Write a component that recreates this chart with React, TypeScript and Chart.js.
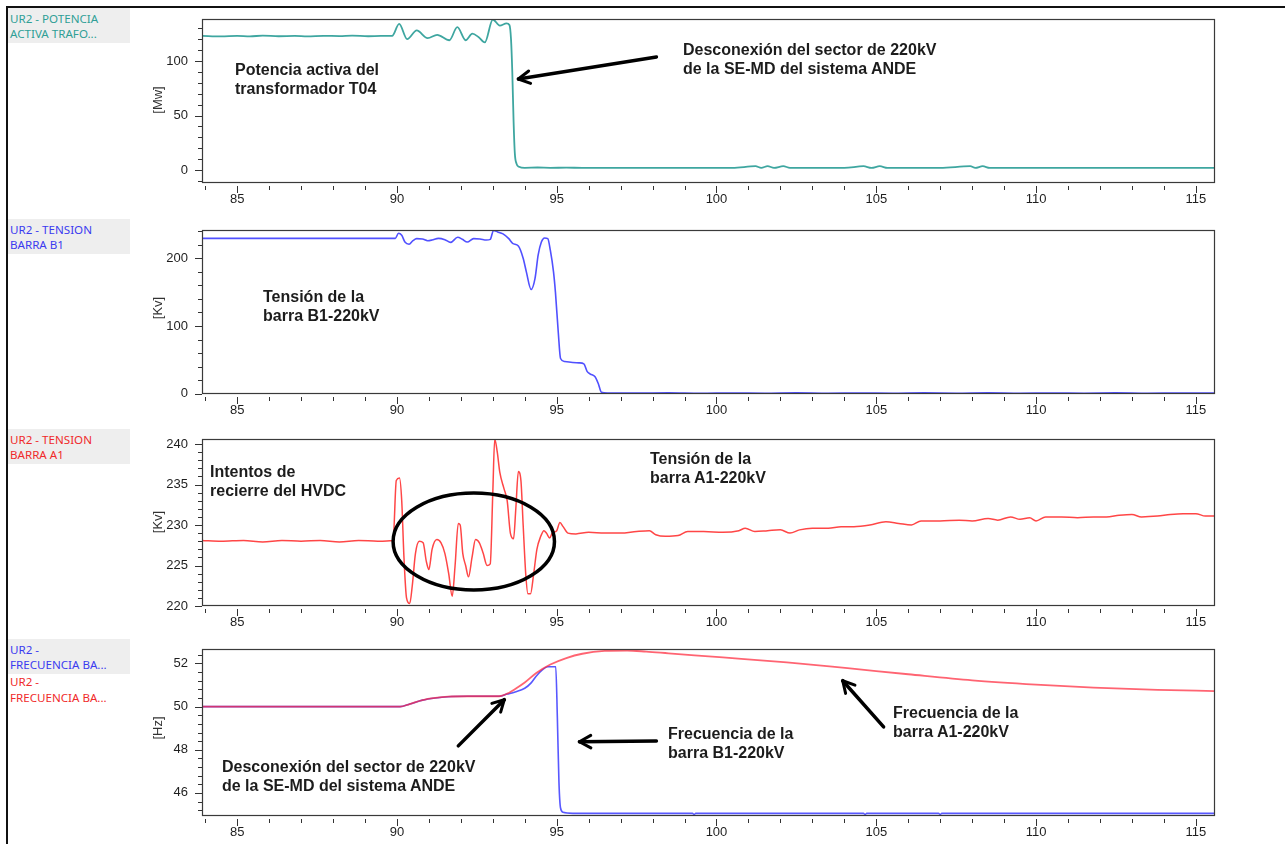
import React, { useEffect, useRef } from "react";
import { Chart, registerables } from "chart.js";

Chart.register(...registerables);

type Pt = [number, number];

// ---------- shared time axis [s] ----------
const TIME_MIN = 83.9;
const TIME_MAX = 115.6;
const TIME_TICKS = [85, 90, 95, 100, 105, 110, 115];

// ---------- panel 1: active power of transformer T04 [MW] ----------
const POWER_T04: Pt[] = [
  [83.9, 123], [84.5, 122.5], [85.0, 123], [85.4, 122.6], [85.8, 123.2], [86.3, 122.7],
  [86.8, 123], [87.2, 122.6], [87.7, 123.1], [88.2, 122.8], [88.6, 123.2], [89.1, 122.7],
  [89.5, 123], [89.85, 123], [90.07, 134], [90.32, 120], [90.62, 128], [90.96, 121],
  [91.26, 124], [91.64, 119], [91.89, 131], [92.15, 119], [92.36, 125], [92.55, 122],
  [92.75, 117], [93.0, 138], [93.22, 132.5], [93.43, 134.5], [93.52, 133], [93.57, 120],
  [93.61, 90], [93.65, 45], [93.69, 15], [93.74, 6], [93.82, 3], [94.0, 2], [94.4, 2.3],
  [94.8, 2], [95.3, 2.2], [95.8, 2], [96.5, 2], [97.5, 2], [98.5, 2], [99.5, 2], [100.5, 2],
  [101.22, 3.5], [101.4, 2], [101.6, 3.5], [101.8, 2], [102.09, 3.5], [102.3, 2], [103.0, 2],
  [104.0, 2], [104.6, 3.5], [104.85, 2], [105.11, 3.5], [105.35, 2], [106.0, 2], [107.0, 2],
  [107.94, 3.5], [108.1, 2], [108.33, 3.5], [108.55, 2], [109.5, 2], [110.5, 2], [111.5, 2],
  [112.5, 2], [113.5, 2], [114.5, 2], [115.6, 2],
];
const POWER_TICKS = [0, 50, 100];

// ---------- panel 2: voltage of bus B1 [kV] ----------
const VOLT_B1: Pt[] = [
  [83.9, 229.5], [89.95, 229.5], [90.05, 237], [90.15, 234], [90.25, 224], [90.38, 220.8],
  [90.5, 226], [90.62, 229], [90.8, 228.5], [90.96, 226], [91.1, 227], [91.3, 229.5],
  [91.5, 227.5], [91.68, 223.5], [91.9, 231], [92.05, 228], [92.2, 224], [92.4, 229],
  [92.6, 228.5], [92.8, 227], [92.92, 228], [93.02, 241], [93.15, 239], [93.32, 236],
  [93.5, 229], [93.62, 222], [93.8, 218], [93.95, 200], [94.05, 180], [94.2, 154],
  [94.32, 170], [94.42, 205], [94.52, 224], [94.62, 230], [94.72, 229], [94.8, 212],
  [94.9, 180], [94.96, 150], [95.05, 90], [95.12, 52], [95.25, 47.5], [95.5, 46],
  [95.7, 45.5], [95.85, 44], [95.95, 33], [96.05, 29], [96.2, 25], [96.3, 15], [96.4, 2],
  [96.6, 1], [97.5, 0.8], [98.5, 1.2], [99.5, 0.5], [100.5, 1], [101.5, 0.6], [102.5, 1.2],
  [103.5, 0.7], [104.5, 1], [105.5, 0.6], [106.5, 1.1], [107.5, 0.7], [108.5, 1.2],
  [109.5, 0.6], [110.5, 1], [111.5, 0.7], [112.5, 1.1], [113.5, 0.6], [114.5, 1], [115.6, 0.8],
];
const VOLT_B1_TICKS = [0, 100, 200];

// ---------- panel 3: voltage of bus A1 [kV] ----------
const VOLT_A1: Pt[] = [
  [83.9, 228.1], [84.5, 228.0], [85.2, 228.1], [85.8, 227.9], [86.4, 228.1], [87.0, 228.0],
  [87.6, 228.1], [88.2, 227.9], [88.8, 228.1], [89.4, 228.0], [89.88, 228.1], [89.98, 235.5],
  [90.08, 235.8], [90.15, 233], [90.22, 226], [90.3, 221], [90.4, 220.3], [90.48, 222.5],
  [90.58, 226.5], [90.7, 228], [90.82, 227.8], [90.92, 225.5], [91.0, 224.5], [91.1, 227],
  [91.25, 228.2], [91.38, 227.8], [91.5, 226.5], [91.62, 224], [91.73, 221.2], [91.82, 225],
  [91.92, 230.2], [91.98, 230], [92.06, 226.5], [92.15, 225], [92.24, 223.6], [92.35, 226],
  [92.46, 228.2], [92.58, 227.8], [92.7, 226.5], [92.82, 225], [92.92, 225.2], [93.0, 234],
  [93.06, 240.6], [93.14, 239], [93.22, 236.5], [93.35, 234.5], [93.45, 233], [93.55, 229],
  [93.65, 228.3], [93.72, 232], [93.8, 236.6], [93.88, 235.5], [93.95, 230], [94.03, 224],
  [94.1, 221.5], [94.18, 221.5], [94.28, 224], [94.38, 227], [94.5, 228.6], [94.6, 229.3],
  [94.68, 229], [94.78, 228.4], [94.86, 229], [95.0, 229.3], [95.1, 230.3], [95.2, 229.8],
  [95.35, 229], [95.6, 228.9], [96.0, 229.1], [96.5, 229], [97.0, 229], [97.5, 229.2],
  [97.9, 229.3], [98.1, 228.8], [98.4, 228.6], [98.8, 228.7], [99.1, 229.2], [99.6, 229.2],
  [100.2, 229.1], [100.7, 229.3], [100.9, 229.6], [101.2, 229.2], [101.6, 229.3], [102.0, 229.4],
  [102.3, 229.0], [102.6, 229.4], [103.0, 229.6], [103.5, 229.6], [103.9, 229.8], [104.3, 229.8],
  [104.8, 230.0], [105.3, 230.4], [105.7, 230.2], [106.1, 230.0], [106.4, 230.5], [107.0, 230.5],
  [107.6, 230.6], [108.0, 230.5], [108.5, 230.8], [108.8, 230.6], [109.2, 231.0], [109.5, 230.7],
  [109.8, 230.9], [110.0, 230.5], [110.3, 231.0], [110.8, 231.0], [111.3, 230.9], [111.8, 231.0],
  [112.2, 231.0], [112.6, 231.2], [113.0, 231.3], [113.3, 231.0], [113.8, 231.1], [114.2, 231.3],
  [114.6, 231.4], [115.0, 231.4], [115.3, 231.1], [115.6, 231.1],
];
const VOLT_A1_TICKS = [220, 225, 230, 235, 240];

// ---------- panel 4: frequency of buses A1 and B1 [Hz] ----------
const FREQ_A1: Pt[] = [
  [83.9, 50.0], [90.1, 50.0], [90.4, 50.12], [90.8, 50.3], [91.2, 50.4], [91.6, 50.46],
  [92.2, 50.48], [93.2, 50.48], [93.45, 50.6], [93.7, 50.82], [94.0, 51.12], [94.35, 51.55],
  [94.8, 51.95], [95.3, 52.25], [95.8, 52.45], [96.5, 52.58], [97.2, 52.6], [97.8, 52.55],
  [98.5, 52.47], [100.2, 52.28], [102.2, 52.05], [104.1, 51.78], [106.0, 51.5], [108.0, 51.22],
  [110.0, 51.02], [111.8, 50.88], [113.8, 50.78], [115.6, 50.72],
];
const FREQ_B1: Pt[] = [
  [83.9, 50.0], [90.1, 50.0], [90.4, 50.12], [90.8, 50.3], [91.2, 50.4], [91.6, 50.46],
  [92.2, 50.48], [93.2, 50.48], [93.45, 50.58], [93.7, 50.68], [94.0, 50.85], [94.2, 51.1],
  [94.35, 51.4], [94.55, 51.7], [94.72, 51.85], [94.97, 51.85], [95.02, 49.5], [95.07, 46.5],
  [95.12, 45.3], [95.2, 45.1], [95.5, 45.05], [99.25, 45.05], [99.3, 45.0], [99.35, 45.05],
  [104.6, 45.05], [104.65, 45.0], [104.7, 45.05], [106.95, 45.05], [107.0, 45.0],
  [107.05, 45.05], [115.6, 45.05],
];
const FREQ_TICKS = [46, 48, 50, 52];

// ---------- layout / styling ----------
const TICK_FONT = '"Liberation Sans", Arial, sans-serif';
const NOTE_FONT = '"Liberation Sans", Arial, sans-serif';
const LABEL_FONT = '"Noto Sans", "Open Sans", sans-serif';

const PAD_TOP = 12;
const X_AXIS_H = 30;
const Y_AXIS_W = 202;
const PAD_RIGHT = 70;

interface Series { data: Pt[]; color: string; width: number }
interface Arrow { from: Pt; to: Pt }
interface Ell { x0: number; x1: number; y0: number; y1: number }
interface PanelCfg {
  top: number; bottom: number;
  yMin: number; yMax: number; yTicks: number[]; yMinor: number;
  series: Series[];
  arrows: Arrow[];
  ellipses: Ell[];
}

const PANELS: PanelCfg[] = [
  {
    top: 19, bottom: 183, yMin: -11.9, yMax: 138.5, yTicks: POWER_TICKS, yMinor: 10,
    series: [{ data: POWER_T04, color: "rgb(62,166,160)", width: 1.8 }],
    arrows: [{ from: [98.12, 103.7], to: [93.8, 83.5] }],
    ellipses: [],
  },
  {
    top: 230, bottom: 394, yMin: -0.5, yMax: 241.8, yTicks: VOLT_B1_TICKS, yMinor: 20,
    series: [{ data: VOLT_B1, color: "rgb(80,80,255)", width: 1.6 }],
    arrows: [],
    ellipses: [],
  },
  {
    top: 439, bottom: 606, yMin: 220, yMax: 240.62, yTicks: VOLT_A1_TICKS, yMinor: 1,
    series: [{ data: VOLT_A1, color: "rgb(255,70,70)", width: 1.5 }],
    arrows: [],
    ellipses: [{ x0: 89.88, x1: 94.93, y0: 221.98, y1: 233.94 }],
  },
  {
    top: 649, bottom: 816, yMin: 44.93, yMax: 52.67, yTicks: FREQ_TICKS, yMinor: 0.4,
    series: [
      { data: FREQ_A1, color: "rgba(255,40,60,0.72)", width: 1.8 },
      { data: FREQ_B1, color: "rgba(70,70,255,0.9)", width: 1.6 },
    ],
    arrows: [
      { from: [91.92, 48.18], to: [93.36, 50.32] },
      { from: [98.12, 48.41], to: [95.71, 48.37] },
      { from: [105.23, 49.06], to: [103.95, 51.2] },
    ],
    ellipses: [],
  },
];

const SIDE_LABELS = [
  { top: 8, lines: ["UR2 - POTENCIA", "ACTIVA TRAFO..."], color: "#2f9f96", extra: null as null | { lines: string[]; color: string } },
  { top: 219, lines: ["UR2 - TENSION", "BARRA B1"], color: "#3b3bf0", extra: null },
  { top: 429, lines: ["UR2 - TENSION", "BARRA A1"], color: "#f02a2a", extra: null },
  { top: 639, lines: ["UR2 -", "FRECUENCIA BA..."], color: "#3b3bf0", extra: { lines: ["UR2 -", "FRECUENCIA BA..."], color: "#f02a2a" } },
];

const UNIT_LABELS = [
  { text: "[Mw]", cy: 100 },
  { text: "[Kv]", cy: 308 },
  { text: "[Kv]", cy: 522 },
  { text: "[Hz]", cy: 728 },
];

const NOTES = [
  { left: 235, top: 60, lines: ["Potencia activa del", "transformador T04"] },
  { left: 683, top: 39.5, lines: ["Desconexión del sector de 220kV", "de la SE-MD del sistema ANDE"] },
  { left: 263, top: 287, lines: ["Tensión de la", "barra B1-220kV"] },
  { left: 210, top: 461.5, lines: ["Intentos de", "recierre del HVDC"] },
  { left: 650, top: 449, lines: ["Tensión de la", "barra A1-220kV"] },
  { left: 222, top: 756.5, lines: ["Desconexión del sector de 220kV", "de la SE-MD del sistema ANDE"] },
  { left: 668, top: 724, lines: ["Frecuencia de la", "barra B1-220kV"] },
  { left: 893, top: 703, lines: ["Frecuencia de la", "barra A1-220kV"] },
];

function near(a: number, list: number[]) {
  return list.some((m) => Math.abs(m - a) < 1e-6);
}

function Panel({ cfg }: { cfg: PanelCfg }) {
  const ref = useRef<HTMLCanvasElement>(null);
  const h = cfg.bottom - cfg.top + PAD_TOP + X_AXIS_H;

  useEffect(() => {
    const framePlugin = {
      id: "frameTicks",
      afterDatasetsDraw(chart: any) {
        const { ctx } = chart;
        const xs = chart.scales.x;
        const ys = chart.scales.y;
        ctx.save();
        ctx.strokeStyle = "#000";
        ctx.lineWidth = 3.5;
        for (const e of cfg.ellipses) {
          const px0 = xs.getPixelForValue(e.x0), px1 = xs.getPixelForValue(e.x1);
          const py0 = ys.getPixelForValue(e.y0), py1 = ys.getPixelForValue(e.y1);
          ctx.beginPath();
          ctx.ellipse((px0 + px1) / 2, (py0 + py1) / 2, Math.abs(px1 - px0) / 2, Math.abs(py1 - py0) / 2, 0, 0, Math.PI * 2);
          ctx.stroke();
        }
        ctx.lineCap = "round";
        ctx.lineJoin = "round";
        for (const ar of cfg.arrows) {
          const x1 = xs.getPixelForValue(ar.from[0]), y1 = ys.getPixelForValue(ar.from[1]);
          const x2 = xs.getPixelForValue(ar.to[0]), y2 = ys.getPixelForValue(ar.to[1]);
          const ang = Math.atan2(y2 - y1, x2 - x1);
          ctx.lineWidth = 3.5;
          ctx.beginPath();
          ctx.moveTo(x1, y1);
          ctx.lineTo(x2, y2);
          ctx.stroke();
          ctx.lineWidth = 3;
          for (const s of [-1, 1]) {
            ctx.beginPath();
            ctx.moveTo(x2, y2);
            ctx.lineTo(x2 - 13 * Math.cos(ang + s * 0.5), y2 - 13 * Math.sin(ang + s * 0.5));
            ctx.stroke();
          }
        }
        ctx.restore();
      },
      afterDraw(chart: any) {
        const { ctx, chartArea: a } = chart;
        const xs = chart.scales.x;
        const ys = chart.scales.y;
        ctx.save();
        ctx.strokeStyle = "#3a3a3a";
        ctx.lineWidth = 1.2;
        ctx.strokeRect(a.left + 0.5, a.top + 0.5, a.right - a.left - 1, a.bottom - a.top - 1);
        ctx.strokeStyle = "#333";
        ctx.lineWidth = 1;
        const k0 = Math.ceil(ys.min / cfg.yMinor - 1e-6);
        for (let k = k0; k * cfg.yMinor <= ys.max + 1e-6; k++) {
          const v = Math.round(k * cfg.yMinor * 1000) / 1000;
          const py = Math.round(ys.getPixelForValue(v)) + 0.5;
          const len = near(v, cfg.yTicks) ? 7 : 4;
          ctx.beginPath();
          ctx.moveTo(a.left - len, py);
          ctx.lineTo(a.left, py);
          ctx.stroke();
        }
        for (let v = Math.ceil(xs.min); v <= xs.max; v++) {
          const px = Math.round(xs.getPixelForValue(v)) + 0.5;
          const len = near(v, TIME_TICKS) ? 7 : 4;
          ctx.beginPath();
          ctx.moveTo(px, a.bottom + 3);
          ctx.lineTo(px, a.bottom + 3 + len);
          ctx.stroke();
        }
        ctx.restore();
      },
    };

    const zeroPad = (s: any) => {
      s.paddingLeft = 0; s.paddingRight = 0; s.paddingTop = 0; s.paddingBottom = 0;
    };

    const chart = new Chart(ref.current as HTMLCanvasElement, {
      type: "line",
      data: {
        datasets: cfg.series.map((s) => ({
          data: s.data.map(([x, y]) => ({ x, y })),
          borderColor: s.color,
          borderWidth: s.width,
          pointRadius: 0,
          fill: false,
          cubicInterpolationMode: "monotone" as const,
        })),
      },
      options: {
        animation: false,
        responsive: false,
        devicePixelRatio: 1,
        events: [],
        layout: { padding: { top: PAD_TOP, right: PAD_RIGHT, left: 0, bottom: 0 } },
        plugins: { legend: { display: false }, tooltip: { enabled: false } },
        scales: {
          x: {
            type: "linear",
            min: TIME_MIN,
            max: TIME_MAX,
            bounds: "data",
            afterBuildTicks: (s: any) => { s.ticks = TIME_TICKS.map((v) => ({ value: v })); },
            afterFit: (s: any) => { s.height = X_AXIS_H; zeroPad(s); },
            grid: { display: false, drawTicks: false },
            border: { display: false },
            ticks: {
              padding: 9, color: "#1e1e1e", maxRotation: 0, autoSkip: false,
              font: { family: TICK_FONT, size: 13 },
            },
          },
          y: {
            type: "linear",
            min: cfg.yMin,
            max: cfg.yMax,
            bounds: "data",
            afterBuildTicks: (s: any) => { s.ticks = cfg.yTicks.map((v) => ({ value: v })); },
            afterFit: (s: any) => { s.width = Y_AXIS_W; zeroPad(s); },
            grid: { display: false, drawTicks: false },
            border: { display: false },
            ticks: {
              padding: 14, color: "#1e1e1e", autoSkip: false,
              font: { family: TICK_FONT, size: 13 },
            },
          },
        },
      } as any,
      plugins: [framePlugin],
    });
    return () => chart.destroy();
  }, []);

  return (
    <canvas
      ref={ref}
      width={1285}
      height={h}
      style={{ position: "absolute", left: 0, top: cfg.top - PAD_TOP, width: 1285, height: h }}
    />
  );
}

export default function App() {
  return (
    <div
      style={{
        position: "absolute", left: 0, top: 0, width: 1285, height: 844,
        overflow: "hidden", background: "#fff",
      }}
    >
      <div
        style={{
          position: "absolute", left: 6, top: 6, width: 1285, height: 844,
          borderTop: "2px solid #111", borderLeft: "2px solid #111",
        }}
      />
      {SIDE_LABELS.map((l, i) => (
        <div key={"s" + i} style={{ position: "absolute", left: 8, top: l.top, width: 122 }}>
          <div
            style={{
              background: "#eeeeee", height: 35, padding: "3px 0 0 2px", boxSizing: "border-box",
              font: `11.6px ${LABEL_FONT}`, lineHeight: "15px", color: l.color, whiteSpace: "nowrap",
            }}
          >
            {l.lines.map((t, j) => <div key={j}>{t}</div>)}
          </div>
          {l.extra && (
            <div
              style={{
                padding: "0 0 0 2px", font: `11.6px ${LABEL_FONT}`, lineHeight: "15.5px",
                color: l.extra.color, whiteSpace: "nowrap",
              }}
            >
              {l.extra.lines.map((t, j) => <div key={j}>{t}</div>)}
            </div>
          )}
        </div>
      ))}
      {PANELS.map((p, i) => <Panel key={"p" + i} cfg={p} />)}
      {UNIT_LABELS.map((u, i) => (
        <div
          key={"u" + i}
          style={{
            position: "absolute", left: 158 - 20, top: u.cy - 8, width: 40, height: 16,
            textAlign: "center", font: `13px ${TICK_FONT}`, lineHeight: "16px", color: "#333",
            transform: "rotate(-90deg)",
          }}
        >
          {u.text}
        </div>
      ))}
      {NOTES.map((n, i) => (
        <div
          key={"n" + i}
          style={{
            position: "absolute", left: n.left, top: n.top, whiteSpace: "nowrap",
            font: `bold 16px ${NOTE_FONT}`, lineHeight: "19px", color: "#1c1c1c",
          }}
        >
          {n.lines.map((t, j) => <div key={j}>{t}</div>)}
        </div>
      ))}
    </div>
  );
}
